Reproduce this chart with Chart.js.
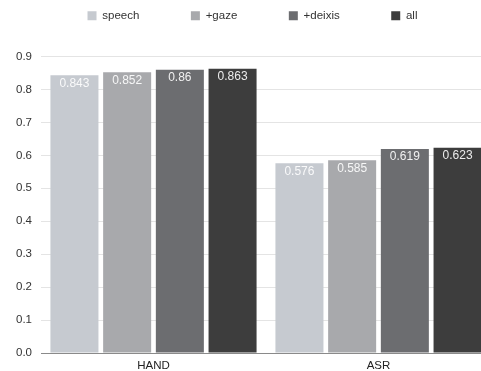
<!DOCTYPE html>
<html>
<head>
<meta charset="utf-8">
<script src="https://cdn.jsdelivr.net/npm/chart.js@4/dist/chart.umd.min.js"></script>
<style>
  html, body { margin: 0; padding: 0; background: #fff; overflow: hidden; }
  #wrap { width: 491px; height: 371px; }
</style>
</head>
<body>
<div id="wrap"><canvas id="chart" width="491" height="371"></canvas></div>
<script>
// data
const categories = ["HAND", "ASR"];
const seriesNames = ["speech", "+gaze", "+deixis", "all"];
const speechValues = [0.843, 0.576];
const gazeValues = [0.852, 0.585];
const deixisValues = [0.86, 0.619];
const allValues = [0.863, 0.623];
const yTicks = [0.0, 0.1, 0.2, 0.3, 0.4, 0.5, 0.6, 0.7, 0.8, 0.9];

const colors = ["#c6cad0", "#a8a9ac", "#6c6d70", "#3d3d3d"];
const fontFamily = "'Helvetica Neue', Helvetica, 'Liberation Sans', Arial, sans-serif";

// push the plot area down below the legend, nudge legend right
const legendSpacer = {
  id: "legendSpacer",
  beforeInit(chart) {
    const fit = chart.legend.fit;
    chart.legend.fit = function () {
      fit.bind(chart.legend)();
      this.height += 25;
    };
  },
  afterLayout(chart) {
    chart.legend.left += 7;
    chart.legend.right += 7;
  }
};

// white value labels inside the top of each bar
const barLabels = {
  id: "barLabels",
  afterDatasetsDraw(chart) {
    const ctx = chart.ctx;
    ctx.save();
    ctx.font = "12px " + fontFamily;
    ctx.fillStyle = "rgba(255,255,255,0.9)";
    ctx.textAlign = "center";
    ctx.textBaseline = "middle";
    chart.data.datasets.forEach((ds, i) => {
      chart.getDatasetMeta(i).data.forEach((bar, j) => {
        ctx.fillText(String(ds.data[j]), bar.x, bar.y + 8);
      });
    });
    ctx.restore();
  }
};

const seriesData = [speechValues, gazeValues, deixisValues, allValues];

new Chart(document.getElementById("chart"), {
  type: "bar",
  data: {
    labels: categories,
    datasets: seriesNames.map((name, i) => ({
      label: name,
      data: seriesData[i],
      backgroundColor: colors[i],
      borderWidth: 0,
      categoryPercentage: 0.937,
      barPercentage: 0.911
    }))
  },
  options: {
    responsive: false,
    animation: false,
    layout: { padding: 0 },
    plugins: {
      tooltip: { enabled: false },
      legend: {
        position: "top",
        labels: {
          boxWidth: 9,
          boxHeight: 9,
          padding: 10,
          color: "#333",
          font: { size: 11.5, family: fontFamily },
          generateLabels(chart) {
            const items = Chart.defaults.plugins.legend.labels.generateLabels(chart);
            items.forEach((it, i) => {
              it.lineWidth = 0;
              if (i < items.length - 1) it.text = it.text + "             ";
            });
            return items;
          }
        }
      }
    },
    scales: {
      x: {
        afterFit(scale) { scale.height = 18; },
        grid: { display: false, drawTicks: false },
        border: { display: true, color: "#8a8a8a", width: 1 },
        ticks: {
          color: "#222",
          padding: 6,
          font: { size: 11.5, family: fontFamily }
        }
      },
      y: {
        min: 0,
        max: 0.9,
        afterFit(scale) { scale.width = 41; },
        afterBuildTicks(scale) {
          scale.ticks = yTicks.map(v => ({ value: v }));
        },
        grid: { color: "#e4e4e4", drawTicks: false },
        border: { display: false },
        ticks: {
          color: "#333",
          padding: 9,
          font: { size: 11.5, family: fontFamily },
          callback: v => Number(v).toFixed(1)
        }
      }
    }
  },
  plugins: [legendSpacer, barLabels]
});
</script>
</body>
</html>
